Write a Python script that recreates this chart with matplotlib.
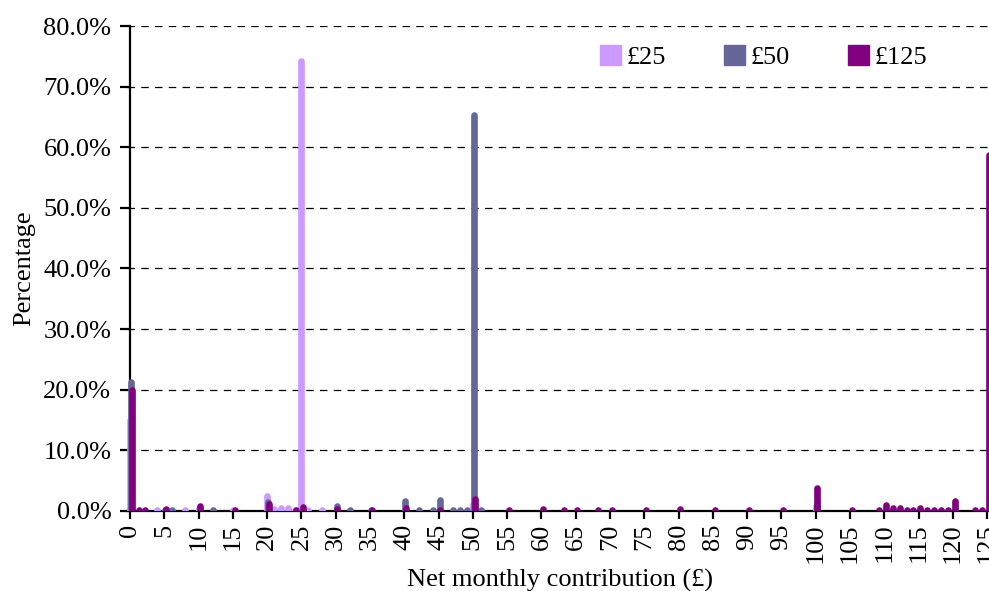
import numpy as np
import matplotlib
matplotlib.use('Agg')
import matplotlib.pyplot as plt
from matplotlib.patches import Patch
from matplotlib.ticker import PercentFormatter

plt.rcParams['font.family'] = ['Liberation Serif', 'DejaVu Serif']

# net monthly contribution (GBP) -> percentage of members, per default level
x25 = [0, 4, 8, 10, 15, 20, 21, 22, 23, 24, 25, 26, 28, 50, 100]
p25 = [15.0, 0.1, 0.1, 0.5, 0.2, 2.5, 0.4, 0.5, 0.5, 0.2, 74.2, 0.1, 0.1, 1.2, 0.8]

x50 = [0, 5, 6, 12, 20, 30, 32, 35, 40, 42, 44, 45, 47, 48, 49, 50, 51, 100]
p50 = [21.3, 0.2, 0.1, 0.1, 1.4, 0.8, 0.1, 0.1, 1.6, 0.1, 0.1, 1.8, 0.1, 0.1, 0.1, 65.3, 0.1, 1.1]

x125 = [0, 1, 2, 5, 10, 15, 20, 24, 25, 30, 35, 40, 45, 50, 55, 60, 63, 65, 68, 70,
        75, 80, 85, 90, 95, 100, 105, 109, 110, 111, 112, 113, 114, 115, 116, 117,
        118, 119, 120, 123, 124, 125]
p125 = [20.0, 0.2, 0.1, 0.3, 0.9, 0.2, 1.1, 0.1, 0.7, 0.4, 0.1, 0.5, 0.1, 1.9, 0.1, 0.3,
        0.1, 0.1, 0.1, 0.2, 0.2, 0.3, 0.1, 0.2, 0.1, 3.8, 0.1, 0.1, 1.0, 0.5, 0.5, 0.1,
        0.1, 0.5, 0.2, 0.1, 0.1, 0.1, 1.6, 0.1, 0.1, 58.8]

labels = ['£25', '£50', '£125']
colors = ['#CC99FF', '#666699', '#800080']
offsets = [0.0, 0.15, 0.25]

fig = plt.figure(figsize=(9.89, 5.91), dpi=100)
# axes run past the right edge of the figure, as in the original export
ax = fig.add_axes([0.128, 0.1354, 0.877, 0.8206])

for xs, ps, col, off in zip([x25, x50, x125], [p25, p50, p125], colors, offsets):
    xx = np.array(xs) + off
    ax.vlines(xx, 0, np.array(ps) / 100.0, colors=col, linewidth=4.8,
              capstyle='round', zorder=3)

ax.set_xlim(-0.5, 126)
ax.set_ylim(0, 0.8)
ax.spines['left'].set_position(('data', 0))
ax.spines['top'].set_visible(False)
ax.spines['right'].set_visible(False)
ax.spines['left'].set_linewidth(1.6)
ax.spines['bottom'].set_linewidth(1.6)

ax.set_yticks(np.arange(0, 0.81, 0.1))
ax.yaxis.set_major_formatter(PercentFormatter(1.0, decimals=1))
ax.set_xticks(np.arange(0, 126, 5))
ax.set_xticklabels([str(v) for v in range(0, 126, 5)], rotation=90)
ax.tick_params(axis='y', direction='out', length=7.5, width=1.6, labelsize=19, pad=6)
ax.tick_params(axis='x', direction='out', length=6, width=1.6, labelsize=19, pad=3)

ax.set_axisbelow(True)
ax.yaxis.grid(True, color='black', linestyle=(0, (6, 5)), linewidth=0.9)

ax.set_ylabel('Percentage', fontsize=19, labelpad=6)
ax.set_xlabel('Net monthly contribution (£)', fontsize=19, labelpad=4)

handles = [Patch(facecolor=c, edgecolor=c) for c in colors]
fig.legend(handles, labels, loc='center left', bbox_to_anchor=(0.607, 0.903),
           ncol=3, frameon=False, fontsize=19, handlelength=0.8, handleheight=0.8,
           handletextpad=0.2, columnspacing=2.2, borderaxespad=0, borderpad=0)

fig.savefig('out.png', dpi=100)
